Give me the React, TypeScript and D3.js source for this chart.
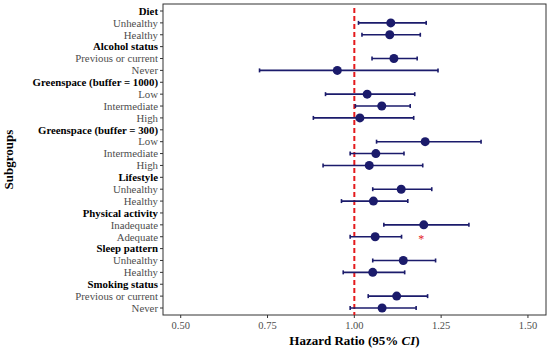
import React from 'react';
import * as d3 from 'd3';

const labels = [
  'Diet', 'Unhealthy', 'Healthy',
  'Alcohol status', 'Previous or current', 'Never',
  'Greenspace (buffer = 1000)', 'Low', 'Intermediate', 'High',
  'Greenspace (buffer = 300)', 'Low', 'Intermediate', 'High',
  'Lifestyle', 'Unhealthy', 'Healthy',
  'Physical activity', 'Inadequate', 'Adequate',
  'Sleep pattern', 'Unhealthy', 'Healthy',
  'Smoking status', 'Previous or current', 'Never'
];
const isHeader = [
  true, false, false,
  true, false, false,
  true, false, false, false,
  true, false, false, false,
  true, false, false,
  true, false, false,
  true, false, false,
  true, false, false
];
// hazard ratio estimates (null for header rows)
const hr = [
  null, 1.105, 1.102,
  null, 1.114, 0.951,
  null, 1.037, 1.079, 1.016,
  null, 1.204, 1.062, 1.043,
  null, 1.135, 1.055,
  null, 1.2, 1.06,
  null, 1.141, 1.053,
  null, 1.122, 1.08
];
const lower = [
  null, 1.012, 1.022,
  null, 1.051, 0.727,
  null, 0.917, 1.003, 0.882,
  null, 1.064, 0.988, 0.91,
  null, 1.053, 0.963,
  null, 1.085, 0.988,
  null, 1.053, 0.968,
  null, 1.04, 0.988
];
const upper = [
  null, 1.207, 1.19,
  null, 1.181, 1.241,
  null, 1.174, 1.161, 1.171,
  null, 1.365, 1.143, 1.197,
  null, 1.223, 1.154,
  null, 1.33, 1.136,
  null, 1.234, 1.145,
  null, 1.211, 1.178
];
const xTicks = [0.5, 0.75, 1.0, 1.25, 1.5];
const starRow = 19;
const starValue = 1.193;

const W = 550;
const H = 351;
const panel = { left: 163, right: 546, top: 4, bottom: 315 };
const navy = '#1b1b6b';
const grey = '#4d4d4d';
const font = '"Liberation Serif", "Times New Roman", serif';

export default function App() {
  const x = d3.scaleLinear().domain([0.449, 1.552]).range([panel.left, panel.right]);
  const ids = labels.map((_, i) => String(i));
  const y = d3.scalePoint<string>().domain(ids).range([11, 308]);
  const rowY = (i: number) => y(String(i)) as number;

  return (
    <svg width={W} height={H} style={{ position: 'absolute', left: 0, top: 0, background: '#fff' }}
      fontFamily={font}>
      <rect x={panel.left} y={panel.top} width={panel.right - panel.left} height={panel.bottom - panel.top}
        fill="none" stroke="#333" strokeWidth={1} />
      {/* y axis ticks and labels */}
      {labels.map((lab, i) => (
        <g key={'y' + i}>
          <line x1={panel.left - 3} x2={panel.left} y1={rowY(i)} y2={rowY(i)} stroke="#333" strokeWidth={1} />
          <text x={panel.left - 5} y={rowY(i)} dy="0.35em" textAnchor="end" fontSize={10.8}
            fontWeight={isHeader[i] ? 'bold' : 'normal'} fill={isHeader[i] ? '#000' : grey}>{lab}</text>
        </g>
      ))}
      {/* x axis */}
      {xTicks.map(t => (
        <g key={'x' + t}>
          <line x1={x(t)} x2={x(t)} y1={panel.bottom} y2={panel.bottom + 3} stroke="#333" strokeWidth={1} />
          <text x={x(t)} y={panel.bottom + 10} dy="0.35em" textAnchor="middle" fontSize={10.5} fill={grey}>
            {d3.format('.2f')(t)}
          </text>
        </g>
      ))}
      <line x1={x(1)} x2={x(1)} y1={panel.top + 4} y2={panel.bottom} stroke="#e41a1c" strokeWidth={2}
        strokeDasharray="5,3" />
      {hr.map((v, i) => {
        if (v == null) return null;
        const yy = rowY(i);
        return (
          <g key={'p' + i}>
            <line x1={x(lower[i] as number)} x2={x(upper[i] as number)} y1={yy} y2={yy} stroke={navy} strokeWidth={1.6} />
            <line x1={x(lower[i] as number)} x2={x(lower[i] as number)} y1={yy - 2} y2={yy + 2} stroke={navy} strokeWidth={1.6} />
            <line x1={x(upper[i] as number)} x2={x(upper[i] as number)} y1={yy - 2} y2={yy + 2} stroke={navy} strokeWidth={1.6} />
            <circle cx={x(v)} cy={yy} r={4.5} fill={navy} />
          </g>
        );
      })}
      <text x={x(starValue)} y={rowY(starRow) + 6} textAnchor="middle" fontSize={12} fill="#e41a1c">*</text>
      <text x={(panel.left + panel.right) / 2} y={345} textAnchor="middle" fontSize={13} fontWeight="bold">
        Hazard Ratio (95% <tspan fontStyle="italic">CI</tspan>)
      </text>
      <text transform={`translate(13, ${(panel.top + panel.bottom) / 2}) rotate(-90)`} textAnchor="middle"
        fontSize={13} fontWeight="bold">Subgroups</text>
    </svg>
  );
}
